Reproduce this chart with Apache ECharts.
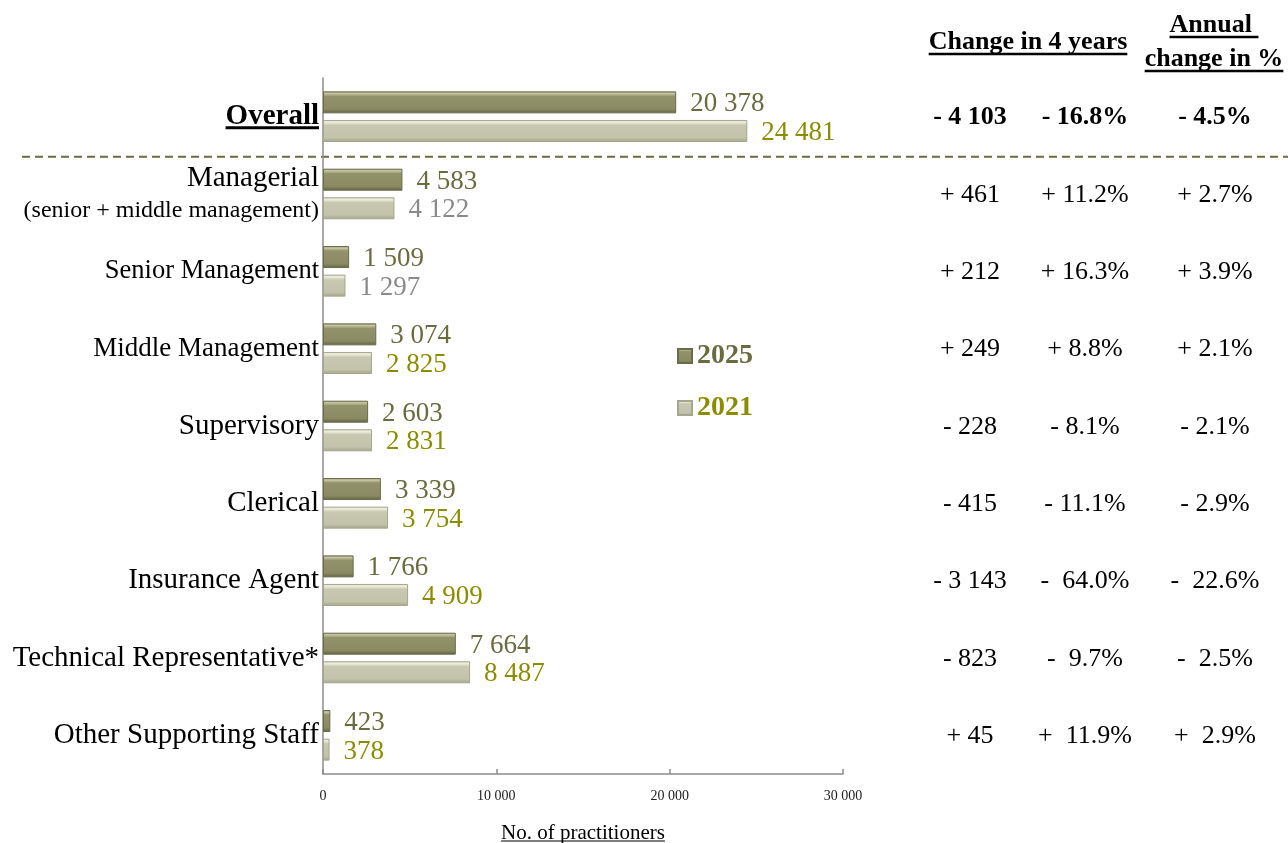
<!DOCTYPE html>
<html>
<head>
<meta charset="utf-8">
<script src="https://cdn.jsdelivr.net/npm/echarts@6/dist/echarts.min.js"></script>
<style>
  html, body { margin: 0; padding: 0; background: #ffffff; }
  #chart { width: 1288px; height: 843px; }
</style>
</head>
<body>
<div id="chart"></div>
<script>
// Practitioners by job category, 2025 vs 2021
const categories = [
  'Overall',
  'Managerial',
  'Senior Management',
  'Middle Management',
  'Supervisory',
  'Clerical',
  'Insurance Agent',
  'Technical Representative*',
  'Other Supporting Staff'
];
const values2025 = [20378, 4583, 1509, 3074, 2603, 3339, 1766, 7664, 423];
const values2021 = [24481, 4122, 1297, 2825, 2831, 3754, 4909, 8487, 378];

// Change columns shown on the right
const change4Years = ['- 4 103', '+ 461', '+ 212', '+ 249', '- 228', '- 415', '- 3 143', '- 823', '+ 45'];
const change4YearsPct = ['- 16.8%', '+ 11.2%', '+ 16.3%', '+ 8.8%', '- 8.1%', '- 11.1%', '-  64.0%', '-  9.7%', '+  11.9%'];
const annualChangePct = ['- 4.5%', '+ 2.7%', '+ 3.9%', '+ 2.1%', '- 2.1%', '- 2.9%', '-  22.6%', '-  2.5%', '+  2.9%'];

// Value axis ticks
const xTicks = [0, 10000, 20000, 30000];

// 2021 labels printed in grey instead of olive
const grey2021 = ['Managerial', 'Senior Management'];

const SERIF = '"Liberation Serif", "Times New Roman", "DejaVu Serif", serif';
const OLIVE_DARK = '#6b6b40';
const OLIVE_YELLOW = '#8c8c00';
const GREY_LABEL = '#8a8a8a';

function spaced(n) {
  return String(n).replace(/\B(?=(\d{3})+(?!\d))/g, ' ');
}

function textWidth(str, font) {
  const c = document.createElement('canvas').getContext('2d');
  c.font = font;
  return c.measureText(str).width;
}

const bevel2025 = new echarts.graphic.LinearGradient(0, 0, 0, 1, [
  { offset: 0, color: '#a2a27c' },
  { offset: 0.1, color: '#c6c6a2' },
  { offset: 0.22, color: '#93936b' },
  { offset: 0.8, color: '#8b8b63' },
  { offset: 1, color: '#626243' }
]);
const bevel2021 = new echarts.graphic.LinearGradient(0, 0, 0, 1, [
  { offset: 0, color: '#d6d6c2' },
  { offset: 0.1, color: '#efefdf' },
  { offset: 0.24, color: '#c8c8b1' },
  { offset: 0.8, color: '#c3c3ab' },
  { offset: 1, color: '#a4a48a' }
]);

const chart = echarts.init(document.getElementById('chart'), null, { renderer: 'canvas' });

const option = {
  backgroundColor: '#ffffff',
  animation: false,
  grid: { left: 323, right: 445, top: 78, bottom: 69, containLabel: false, outerBoundsMode: 'none' },
  legend: {
    orient: 'vertical',
    left: 677,
    top: 342,
    padding: 0,
    itemWidth: 14,
    itemHeight: 14,
    itemGap: 24,
    icon: 'rect',
    textStyle: { fontFamily: SERIF, fontSize: 28, fontWeight: 'bold' },
    data: [
      { name: '2025', textStyle: { color: OLIVE_DARK } },
      { name: '2021', textStyle: { color: OLIVE_YELLOW } }
    ]
  },
  xAxis: {
    type: 'value',
    min: xTicks[0],
    max: xTicks[xTicks.length - 1],
    interval: xTicks[1] - xTicks[0],
    splitLine: { show: false },
    axisLine: { show: true, lineStyle: { color: '#8c8c8c', width: 1.5 } },
    axisTick: { show: true, inside: true, length: 5, lineStyle: { color: '#8c8c8c', width: 1.5 } },
    axisLabel: {
      margin: 15,
      fontFamily: SERIF,
      fontSize: 14,
      color: '#222',
      formatter: v => spaced(v)
    },
    name: 'No. of practitioners',
    nameLocation: 'middle',
    nameGap: 49,
    nameTextStyle: { fontFamily: SERIF, fontSize: 21, color: '#000' }
  },
  yAxis: {
    type: 'category',
    inverse: true,
    data: categories,
    axisLine: { show: true, lineStyle: { color: '#8c8c8c', width: 1.5 } },
    axisTick: { show: false },
    axisLabel: {
      margin: 4,
      align: 'right',
      formatter: v => {
        if (v === 'Overall') return '{ov|Overall}';
        if (v === 'Managerial') return '{b|Managerial}\n{s|(senior + middle management)}';
        if (v === 'Senior Management') return '{sm|' + v + '}';
        if (v === 'Middle Management') return '{mm|' + v + '}';
        return '{b|' + v + '}';
      },
      rich: {
        ov: { fontFamily: SERIF, fontSize: 29, fontWeight: 'bold', color: '#000', align: 'right' },
        b: { fontFamily: SERIF, fontSize: 29, color: '#000', lineHeight: 34, align: 'right' },
        sm: { fontFamily: SERIF, fontSize: 26.5, color: '#000', align: 'right' },
        mm: { fontFamily: SERIF, fontSize: 27, color: '#000', align: 'right' },
        s: { fontFamily: SERIF, fontSize: 24, color: '#000', lineHeight: 32, align: 'right' }
      }
    }
  },
  series: [
    {
      name: '2025',
      type: 'bar',
      barWidth: 22,
      barGap: '30%',
      data: values2025,
      itemStyle: { color: bevel2025, borderColor: '#6a6a4d', borderWidth: 1 },
      label: {
        show: true,
        position: 'right',
        distance: 14,
        offset: [0, 2],
        fontFamily: SERIF,
        fontSize: 27,
        color: OLIVE_DARK,
        formatter: p => spaced(p.value)
      }
    },
    {
      name: '2021',
      type: 'bar',
      barWidth: 22,
      barGap: '30%',
      data: values2021.map((v, i) => ({
        value: v,
        label: { color: grey2021.includes(categories[i]) ? GREY_LABEL : OLIVE_YELLOW }
      })),
      itemStyle: { color: bevel2021, borderColor: '#a6a68e', borderWidth: 1 },
      label: {
        show: true,
        position: 'right',
        distance: 14,
        offset: [0, 2],
        fontFamily: SERIF,
        fontSize: 27,
        color: OLIVE_YELLOW,
        formatter: p => spaced(p.value)
      }
    }
  ]
};

chart.setOption(option);

// Right-hand table, separator and underlines
function buildOverlay() {
  const els = [];
  const colX = [970, 1085, 1215];
  const cols = [change4Years, change4YearsPct, annualChangePct];

  categories.forEach((cat, i) => {
    const y = chart.convertToPixel({ yAxisIndex: 0 }, cat) + 1;
    cols.forEach((col, c) => {
      els.push({
        type: 'text',
        x: colX[c],
        y: y,
        style: {
          text: col[i],
          fontFamily: SERIF,
          fontSize: 26,
          fontWeight: i === 0 ? 'bold' : 'normal',
          fill: '#000',
          align: 'center',
          verticalAlign: 'middle'
        }
      });
    });
  });

  // dashed separator between the overall row and the breakdown
  const y0 = chart.convertToPixel({ yAxisIndex: 0 }, categories[0]);
  const y1 = chart.convertToPixel({ yAxisIndex: 0 }, categories[1]);
  const sepY = (y0 + y1) / 2 + 1.5;
  els.push({
    type: 'line',
    shape: { x1: 22, y1: sepY, x2: 1288, y2: sepY },
    style: { stroke: '#6b6b40', lineWidth: 2, lineDash: [8, 5] }
  });

  // column headers
  const headFont = 'bold 26px ' + SERIF;
  const headers = [
    { text: 'Change in 4 years', x: 1028, y: 42, uy: 54 },
    { text: 'Annual ', x: 1214, y: 25, uy: 37 },
    { text: 'change in %', x: 1214, y: 59, uy: 71 }
  ];
  headers.forEach(h => {
    els.push({
      type: 'text',
      x: h.x,
      y: h.y,
      style: {
        text: h.text,
        fontFamily: SERIF,
        fontSize: 26,
        fontWeight: 'bold',
        fill: '#000',
        align: 'center',
        verticalAlign: 'middle'
      }
    });
    const w = textWidth(h.text, headFont);
    els.push({
      type: 'line',
      shape: { x1: h.x - w / 2, y1: h.uy, x2: h.x + w / 2, y2: h.uy },
      style: { stroke: '#000', lineWidth: 2.5 }
    });
  });

  // underline for the "Overall" axis label
  const axisX = chart.convertToPixel({ xAxisIndex: 0 }, 0);
  const ovW = textWidth('Overall', 'bold 29px ' + SERIF);
  const ovRight = axisX - 4;
  els.push({
    type: 'line',
    shape: { x1: ovRight - ovW, y1: y0 + 11, x2: ovRight, y2: y0 + 11 },
    style: { stroke: '#000', lineWidth: 3 }
  });

  // underline for the axis name
  const nmW = textWidth('No. of practitioners', '21px ' + SERIF);
  const xMid = (chart.convertToPixel({ xAxisIndex: 0 }, xTicks[0]) + chart.convertToPixel({ xAxisIndex: 0 }, xTicks[xTicks.length - 1])) / 2;
  els.push({
    type: 'line',
    shape: { x1: xMid - nmW / 2, y1: 841, x2: xMid + nmW / 2, y2: 841 },
    style: { stroke: '#000', lineWidth: 1.2 }
  });

  chart.setOption({ graphic: { elements: els } });
}

buildOverlay();
</script>
</body>
</html>
